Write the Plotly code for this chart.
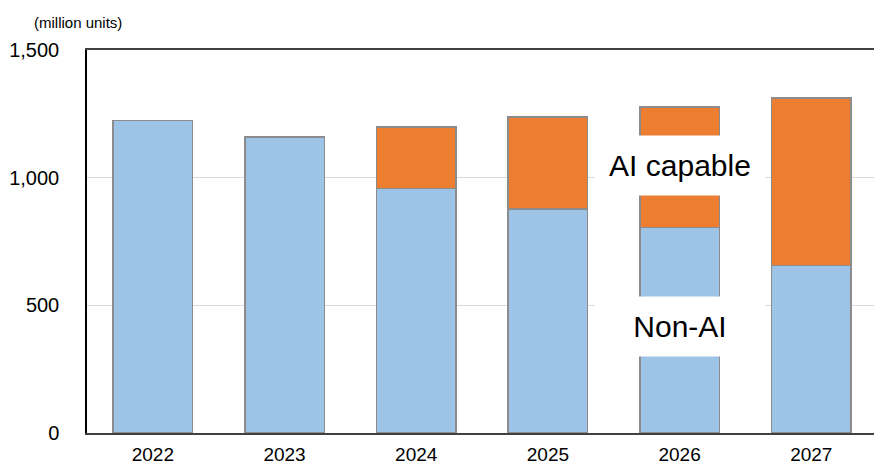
import plotly.graph_objects as go

years = ["2022", "2023", "2024", "2025", "2026", "2027"]
non_ai = [1223, 1160, 957, 878, 804, 657]
ai_capable = [0, 0, 241, 360, 472, 656]
y_ticks = [0, 500, 1000, 1500]
y_tick_text = ["0", "500", "1,000", "1,500"]

FONT = "Liberation Sans, Arial, sans-serif"
BLUE = "#9DC3E6"
ORANGE = "#ED7D31"
EDGE = "#8C8C8C"

fig = go.Figure()
fig.add_trace(go.Bar(x=years, y=non_ai, name="Non-AI",
                     marker=dict(color=BLUE, line=dict(color=EDGE, width=1.5))))
fig.add_trace(go.Bar(x=years, y=ai_capable, name="AI capable",
                     marker=dict(color=ORANGE, line=dict(color=EDGE, width=1.5))))

fig.update_layout(
    barmode="stack",
    bargap=0.396,
    width=874, height=466,
    autosize=False,
    margin=dict(l=87, r=0, t=50, b=33, pad=0, autoexpand=False),
    plot_bgcolor="white", paper_bgcolor="white",
    showlegend=False,
    font=dict(family=FONT, color="black"),
    xaxis=dict(type="category", range=[-0.5, 5.476], showline=True, mirror=True,
               linecolor="#404040", linewidth=1.5, showgrid=False, ticks="",
               tickfont=dict(size=19, color="black"), ticklabelstandoff=3,
               automargin=False),
    yaxis=dict(range=[0, 1500], tickvals=y_ticks, ticktext=y_tick_text,
               showline=True, linecolor="black", linewidth=1.5,
               showgrid=True, gridcolor="#D9D9D9", gridwidth=1,
               ticks="", tickfont=dict(size=20, color="black"),
               ticklabelstandoff=22, zeroline=False, automargin=False),
)

label_cat = years.index("2026")
fig.add_annotation(x=label_cat, y=1048, xref="x", yref="y", text="AI capable",
                   showarrow=False, bgcolor="white", width=170, height=59,
                   borderpad=0, font=dict(size=30, color="black", family=FONT))
fig.add_annotation(x=label_cat, y=418, xref="x", yref="y", text="Non-AI",
                   showarrow=False, bgcolor="white", width=170, height=59,
                   borderpad=0, font=dict(size=30, color="black", family=FONT))
fig.add_annotation(x=-0.012, y=1.073, xref="paper", yref="paper",
                   xanchor="center", yanchor="middle", text="(million units)",
                   showarrow=False, font=dict(size=15, color="black", family=FONT))

fig.write_html("out.html")
